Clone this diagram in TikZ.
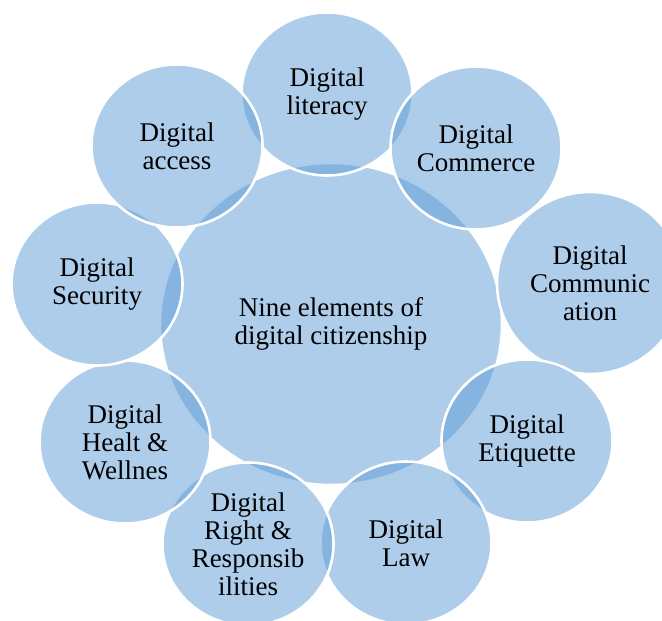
\documentclass[tikz,border=0pt]{standalone}
\usepackage{fontspec}
\setmainfont{Liberation Serif}
\usepackage{tikz}
\usetikzlibrary{shapes.geometric, positioning}
\definecolor{accentblue}{HTML}{5B9BD5}
\tikzstyle{hub} = [ellipse, minimum width=171pt, minimum height=161pt, inner sep=0pt, fill=accentblue, fill opacity=0.5, text opacity=1, draw=white, line width=1.3pt, align=center, font=\fontsize{13.5}{14}\selectfont]
\tikzset{
	element/.style = {ellipse, minimum width=85.5pt, minimum height=81.5pt, inner sep=0pt,
		fill=accentblue, fill opacity=0.5, text opacity=1,
		draw=white, line width=1.3pt, align=center,
		font=\fontsize{13.5}{14}\selectfont
	}
}
\begin{document}
\begin{tikzpicture}[x=0.5pt, y=-0.5pt]
\useasboundingbox (0,0) rectangle (662,620);
%----------------------------------------------------------------------------
% Centre
\node (citizenship) [hub] at (331,324) {Nine elements of\\digital citizenship};

%----------------------------------------------------------------------------
% Nine elements, clockwise from the top
\node (literacy) [element] at (327,94) {Digital\\literacy};
\node (commerce) [element] at (476,148) {Digital\\Commerce};
\node (communication) [element, minimum width=93pt, minimum height=91pt] at (590,283) {Digital\\Communic\\ation};
\node (etiquette) [element] at (527,441) {Digital\\Etiquette};
\node (law) [element] at (406,543) {Digital\\Law};
\node (rights) [element] at (248,544) {Digital\\Right \&\\Responsib\\ilities};
\node (health) [element] at (125,442) {Digital\\Healt \&\\Wellnes};
\node (security) [element] at (97,284) {Digital\\Security};
\node (access) [element] at (177,146) {Digital\\access};
\end{tikzpicture}
\end{document}
